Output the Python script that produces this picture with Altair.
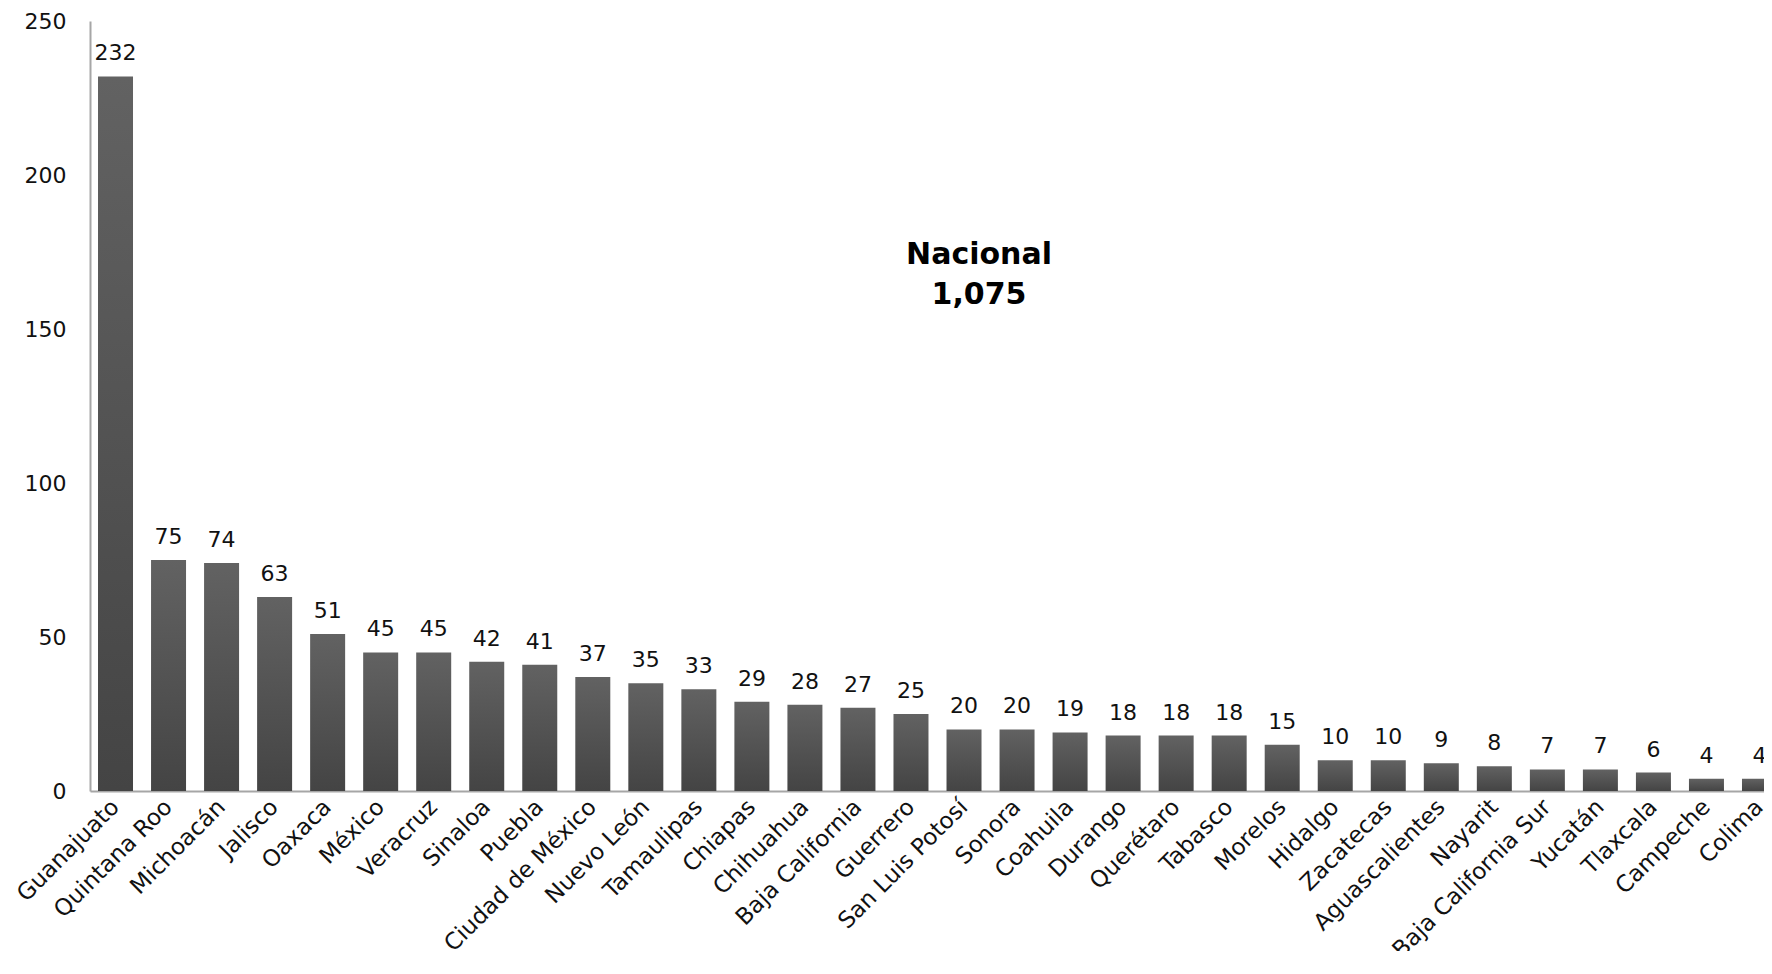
import altair as alt
import pandas as pd

estados = ["Guanajuato", "Quintana Roo", "Michoacán", "Jalisco", "Oaxaca", "México",
           "Veracruz", "Sinaloa", "Puebla", "Ciudad de México", "Nuevo León", "Tamaulipas",
           "Chiapas", "Chihuahua", "Baja California", "Guerrero", "San Luis Potosí", "Sonora",
           "Coahuila", "Durango", "Querétaro", "Tabasco", "Morelos", "Hidalgo", "Zacatecas",
           "Aguascalientes", "Nayarit", "Baja California Sur", "Yucatán", "Tlaxcala",
           "Campeche", "Colima"]
valores = [232, 75, 74, 63, 51, 45, 45, 42, 41, 37, 35, 33, 29, 28, 27, 25, 20, 20, 19,
           18, 18, 18, 15, 10, 10, 9, 8, 7, 7, 6, 4, 4]
y_ticks = [0, 50, 100, 150, 200, 250]
nota_texto = ["Nacional", "1,075"]
nota_y = [174]

FONT = "DejaVu Sans"

df = pd.DataFrame({"estado": estados, "valor": valores})
nota = pd.DataFrame({"y": nota_y, "t": [nota_texto]})

x_enc = alt.X("estado:N", sort=None,
              scale=alt.Scale(range=[0, 1695], paddingInner=0.34, paddingOuter=0.151),
              axis=alt.Axis(title=None, labelAngle=-45, labelAlign="right",
                            labelBaseline="middle", labelPadding=12, ticks=False,
                            labelFontSize=23, labelFont=FONT, labelColor="#111111",
                            domainColor="#a6a6a6", domainWidth=2, labelOverlap=False,
                            labelLimit=0))
y_enc = alt.Y("valor:Q", scale=alt.Scale(domain=[0, 250], nice=False),
              axis=alt.Axis(title=None, values=y_ticks, ticks=False, grid=False,
                            labelFontSize=22, labelFont=FONT, labelColor="#111111",
                            labelPadding=24, domainColor="#a6a6a6", domainWidth=2))

grad = alt.Gradient(gradient="linear",
                    stops=[alt.GradientStop(color="#626262", offset=0),
                           alt.GradientStop(color="#444444", offset=1)],
                    x1=0, x2=0, y1=0, y2=1)

base = alt.Chart(df)
bars = base.mark_bar(color=grad).encode(x=x_enc, y=y_enc)
labels = base.mark_text(dy=-16, baseline="alphabetic", fontSize=22, font=FONT,
                        color="#111111").encode(x=alt.X("estado:N", sort=None),
                                                y="valor:Q", text="valor:Q")
ann = alt.Chart(nota).mark_text(fontSize=30, font=FONT, fontWeight="bold", color="#000000",
                                lineHeight=40, align="center", baseline="middle").encode(
    x=alt.value(889), y="y:Q", text="t")

chart = (bars + labels + ann).properties(
    width=1674, height=770,
    autosize=alt.AutoSizeParams(type="none"),
    padding={"left": 82, "top": 13, "right": 0, "bottom": 160},
).configure_view(stroke=None)

chart.save("out.html", embed_options={"renderer": "svg", "actions": False})
